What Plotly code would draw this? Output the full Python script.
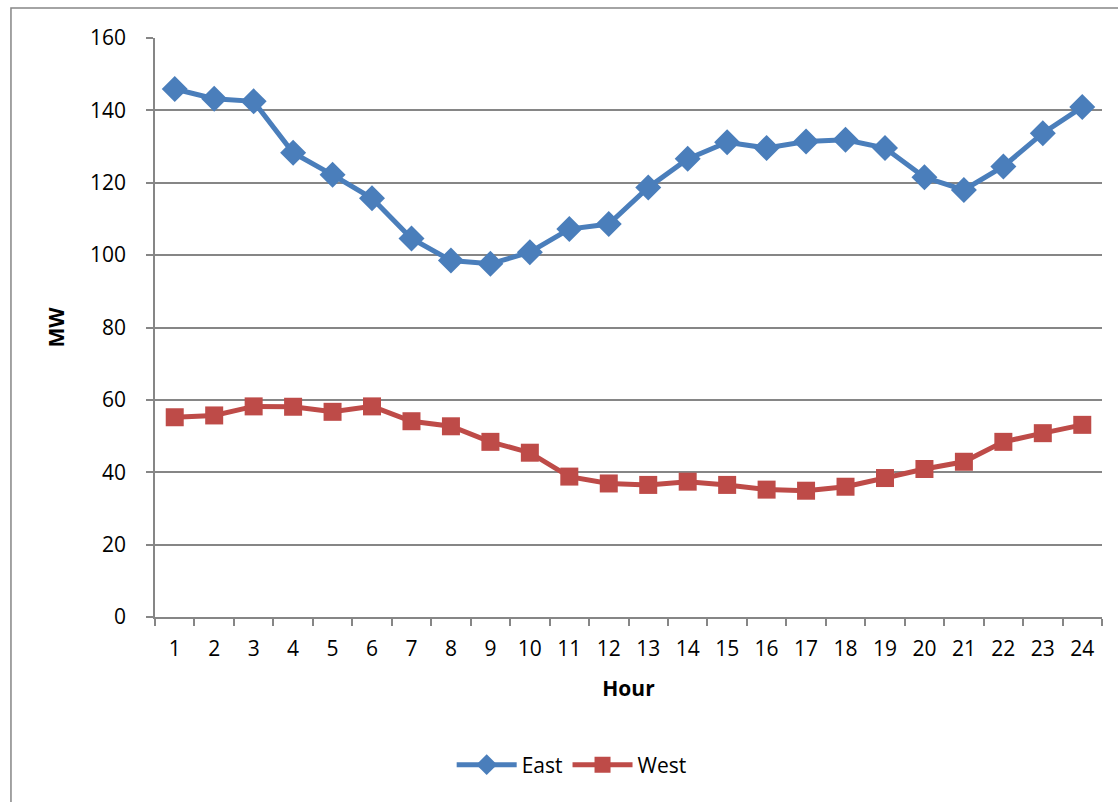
import plotly.graph_objects as go

hours = [str(h) for h in range(1, 25)]
east = [145.9, 143.2, 142.5, 128.3, 122.2, 115.7, 104.6, 98.5, 97.6, 100.8, 107.2, 108.6,
        118.7, 126.6, 131.2, 129.6, 131.4, 131.9, 129.6, 121.5, 118.0, 124.5, 133.7, 140.9]
west = [55.2, 55.7, 58.2, 58.1, 56.7, 58.2, 54.1, 52.7, 48.4, 45.4, 38.8, 36.9,
        36.5, 37.4, 36.5, 35.2, 34.9, 36.0, 38.4, 40.9, 42.9, 48.4, 50.8, 53.1]
y_ticks = [0, 20, 40, 60, 80, 100, 120, 140, 160]

FONT = "Open Sans"
GRID = "#868686"

fig = go.Figure()
fig.add_trace(go.Scatter(x=hours, y=east, name="East", mode="lines+markers",
                         line=dict(color="#4A7EBB", width=5),
                         marker=dict(symbol="diamond", size=20, color="#4A7EBB")))
fig.add_trace(go.Scatter(x=hours, y=west, name="West", mode="lines+markers",
                         line=dict(color="#BE4B48", width=5),
                         marker=dict(symbol="square", size=18, color="#BE4B48")))

fig.update_layout(
    width=1118, height=802,
    margin=dict(l=155, r=16, t=38, b=185, autoexpand=False),
    paper_bgcolor="white", plot_bgcolor="white",
    font=dict(family=FONT, size=21, color="black"),
    showlegend=True,
    legend=dict(orientation="h", x=0.44, xanchor="center", y=-0.2556, yanchor="middle",
                itemwidth=60, font=dict(size=21), tracegroupgap=0),
    xaxis=dict(type="category", range=[-0.5, 23.5], tickson="boundaries", ticks="outside", ticklen=7,
               tickcolor=GRID, tickwidth=1.5, showline=True, linecolor=GRID, linewidth=1.5,
               showgrid=False, zeroline=False, automargin=False,
               title=dict(text="<b>Hour</b>", font=dict(size=21), standoff=20),
               tickfont=dict(size=21), ticklabelstandoff=12),
    yaxis=dict(range=[0, 160], tickvals=y_ticks, ticks="outside", ticklen=7,
               tickcolor=GRID, tickwidth=1.5, showline=True, linecolor=GRID, linewidth=1.5,
               showgrid=True, gridcolor=GRID, gridwidth=1.5, zeroline=False, automargin=False,
               title=dict(text="<b>MW</b>", font=dict(size=21), standoff=20),
               tickfont=dict(size=21), ticklabelstandoff=16),
    shapes=[dict(type="rect", xref="paper", yref="paper",
                 x0=-0.1521, x1=1.05, y0=-0.4, y1=1.0518,
                 line=dict(color=GRID, width=1.5), fillcolor="rgba(0,0,0,0)", layer="below")],
)

fig.write_html("out.html", config={"displayModeBar": False},
               post_script="document.body.style.margin='0';")
